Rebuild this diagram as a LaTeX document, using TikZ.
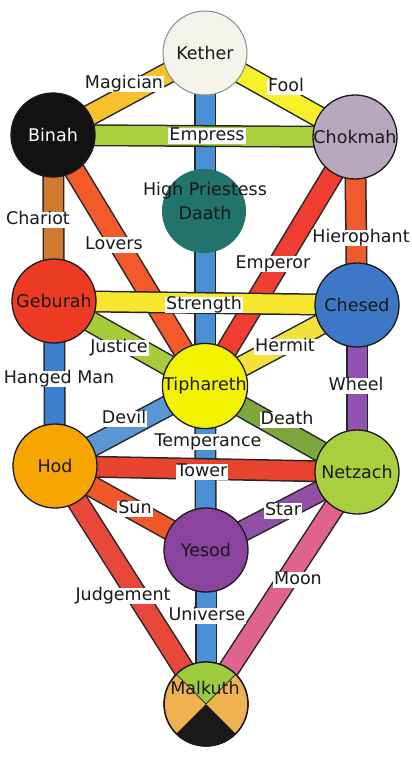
\documentclass[tikz,border=0pt]{standalone}
\usepackage{fontspec}
\setmainfont{DejaVu Sans}
\definecolor{cKether}{HTML}{F4F4EC}
\definecolor{cBinah}{HTML}{121212}
\definecolor{cChokmah}{HTML}{B8A8BE}
\definecolor{cDaath}{HTML}{22736B}
\definecolor{cGeburah}{HTML}{EE3B24}
\definecolor{cChesed}{HTML}{3E77C6}
\definecolor{cTiph}{HTML}{F3F300}
\definecolor{cHod}{HTML}{F7A500}
\definecolor{cNetz}{HTML}{A9CF3E}
\definecolor{cYesod}{HTML}{8A449E}
\definecolor{mGreen}{HTML}{9FCB3F}
\definecolor{mOchre}{HTML}{EFB24F}
\definecolor{mBlack}{HTML}{1A1A1A}
\definecolor{pMagician}{HTML}{F8C02A}
\definecolor{pFool}{HTML}{F8F028}
\definecolor{pBlue}{HTML}{4A90D6}
\definecolor{pEmpress}{HTML}{A8D03C}
\definecolor{pChariot}{HTML}{CF7A2E}
\definecolor{pLovers}{HTML}{F25A2A}
\definecolor{pEmperor}{HTML}{F03E30}
\definecolor{pHierophant}{HTML}{EF5A2E}
\definecolor{pStrength}{HTML}{F7E62E}
\definecolor{pJustice}{HTML}{A6CC3C}
\definecolor{pHermit}{HTML}{F3E23C}
\definecolor{pHanged}{HTML}{3D7FCF}
\definecolor{pWheel}{HTML}{9252B2}
\definecolor{pDevil}{HTML}{5A96D4}
\definecolor{pDeath}{HTML}{7EA63E}
\definecolor{pTower}{HTML}{E8432F}
\definecolor{pSun}{HTML}{F0582A}
\definecolor{pStar}{HTML}{9150A6}
\definecolor{pJudgement}{HTML}{E8483A}
\definecolor{pMoon}{HTML}{E0628E}
\pgfdeclarelayer{background}
\pgfsetlayers{background,main}
\newcommand\pth[3]{%
  \draw[line width=22pt, black!85] (#1.center) -- (#2.center);
  \draw[line width=19pt, #3] (#1.center) -- (#2.center);}
\begin{document}
\begin{tikzpicture}[x=1pt,y=-1pt,
  sephira/.style={circle, draw=black!90, line width=1.3pt, minimum size=84pt, inner sep=0pt,
    font=\fontsize{17.5}{17.5}\selectfont, text=black!90},
  tag/.style={fill=white, inner xsep=1pt, inner ysep=0pt, text height=12.8pt, text depth=3.6pt,
    font=\fontsize{17.5}{17.5}\selectfont, text=black!90},
  plain/.style={inner sep=0pt, font=\fontsize{17.5}{17.5}\selectfont, text=black!90}]
\useasboundingbox (0,0) rectangle (412,760);

% Sephiroth
\node[sephira, fill=cKether, draw=black!45, line width=1pt] (Kether) at (205,53) {Kether};
\node[sephira, fill=cBinah, text=white] (Binah) at (53,135) {Binah};
\node[sephira, fill=cChokmah] (Chokmah) at (355,137) {Chokmah};
\node[sephira, fill=cDaath, draw=none] (Daath) at (204,211) {};
\node[sephira, fill=cGeburah] (Geburah) at (54,301) {Geburah};
\node[sephira, fill=cChesed] (Chesed) at (357,305) {Chesed};
\node[sephira, fill=cTiph] (Tiphareth) at (205,386) {Tiphareth};
\node[sephira, fill=cHod] (Hod) at (55,466) {Hod};
\node[sephira, fill=cNetz] (Netzach) at (357,472) {Netzach};
\node[sephira, fill=cYesod] (Yesod) at (206,550) {Yesod};
\node[sephira, fill=mOchre] (Malkuth) at (206,704) {};
\fill[mGreen] (Malkuth.center) -- ++(225:42) arc[start angle=225, end angle=315, radius=42] -- cycle;
\fill[mBlack] (Malkuth.center) -- ++(45:42) arc[start angle=45, end angle=135, radius=42] -- cycle;
\draw[black!80, line width=0.8pt] (Malkuth.center) -- ++(225:42) (Malkuth.center) -- ++(315:42);
\draw[black!90, line width=1.3pt] (Malkuth.center) circle[radius=42];

% Paths
\begin{pgfonlayer}{background}
\fill[white] (0,0) rectangle (412,760);
\pth{Kether}{Tiphareth}{pBlue}
\pth{Tiphareth}{Yesod}{pBlue}
\pth{Yesod}{Malkuth}{pBlue}
\pth{Kether}{Binah}{pMagician}
\pth{Kether}{Chokmah}{pFool}
\pth{Binah}{Tiphareth}{pLovers}
\pth{Chokmah}{Tiphareth}{pEmperor}
\pth{Binah}{Geburah}{pChariot}
\pth{Chokmah}{Chesed}{pHierophant}
\pth{Geburah}{Tiphareth}{pJustice}
\pth{Chesed}{Tiphareth}{pHermit}
\pth{Geburah}{Hod}{pHanged}
\pth{Chesed}{Netzach}{pWheel}
\pth{Tiphareth}{Hod}{pDevil}
\pth{Tiphareth}{Netzach}{pDeath}
\pth{Hod}{Yesod}{pSun}
\pth{Netzach}{Yesod}{pStar}
\pth{Hod}{Malkuth}{pJudgement}
\pth{Netzach}{Malkuth}{pMoon}
\pth{Binah}{Chokmah}{pEmpress}
\pth{Geburah}{Chesed}{pStrength}
\pth{Hod}{Netzach}{pTower}
\end{pgfonlayer}

% Labels
\node[tag] (lMagician) at (124,84) {Magician};
\node[tag] (lFool) at (286,87) {Fool};
\node[tag] (lEmpress) at (207,136) {Empress};
\node[plain] (lPriestess) at (205,191) {High Priestess};
\node[plain] (lDaath) at (205,213) {Daath};
\node[tag] (lChariot) at (38,220) {Chariot};
\node[tag] (lLovers) at (114,245) {Lovers};
\node[tag] (lHierophant) at (361,238) {Hierophant};
\node[tag] (lEmperor) at (273,264) {Emperor};
\node[tag] (lStrength) at (204,305) {Strength};
\node[tag] (lJustice) at (119,348) {Justice};
\node[tag] (lHermit) at (285,347) {Hermit};
\node[tag] (lHanged) at (59,379) {Hanged Man};
\node[tag] (lWheel) at (356,386) {Wheel};
\node[tag] (lDevil) at (124,419) {Devil};
\node[tag] (lDeath) at (287,420) {Death};
\node[tag] (lTemperance) at (208,442) {Temperance};
\node[tag] (lTower) at (202,472) {Tower};
\node[tag] (lSun) at (135,509) {Sun};
\node[tag] (lStar) at (283,511) {Star};
\node[tag] (lMoon) at (298,580) {Moon};
\node[tag] (lJudgement) at (123,596) {Judgement};
\node[tag] (lUniverse) at (207,616) {Universe};
\node[plain] (lMalkuth) at (205,688) {Malkuth};
\end{tikzpicture}
\end{document}
